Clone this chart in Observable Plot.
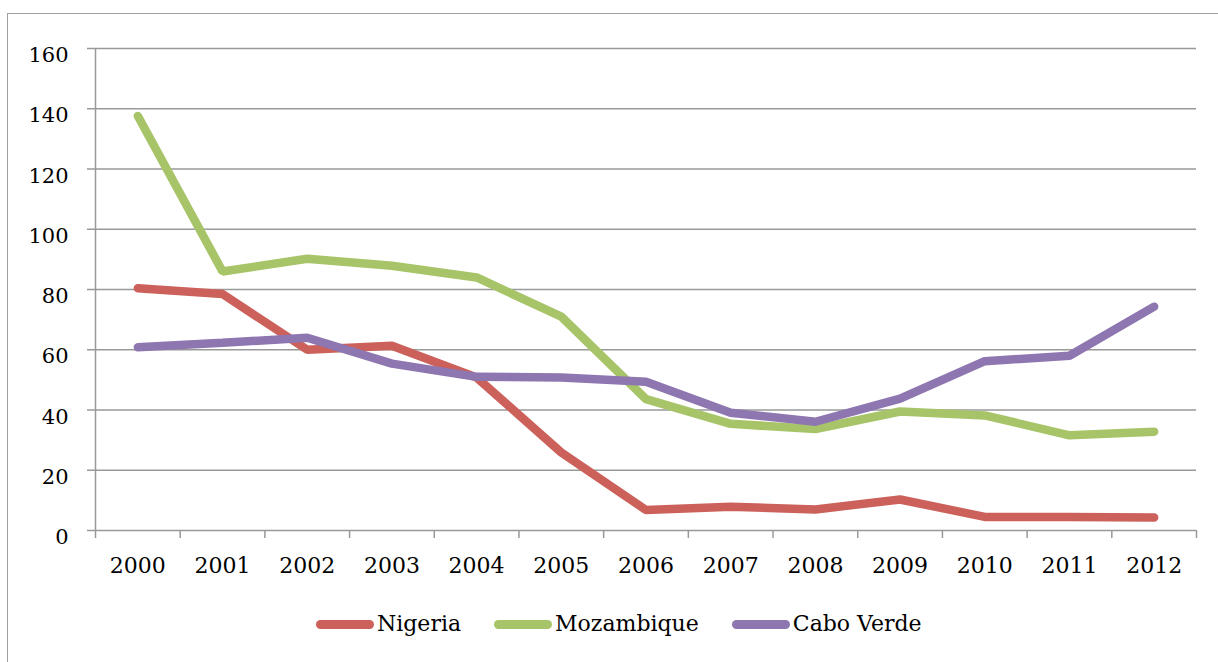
<!DOCTYPE html>
<html><head><meta charset="utf-8">
<script src="https://cdn.jsdelivr.net/npm/d3@7"></script>
<script src="https://cdn.jsdelivr.net/npm/@observablehq/plot@0.6"></script>
<style>
html,body{margin:0;padding:0;background:#fff;}
#wrap{position:relative;width:1218px;height:662px;overflow:hidden;font-family:"DejaVu Serif",serif;background:#fff;}
#border{position:absolute;left:7px;top:13px;width:1300px;height:700px;border:1.5px solid #a0a0a0;}
#chart{position:absolute;left:0;top:0;}
#legend{position:absolute;left:316px;top:608px;display:flex;align-items:center;gap:33px;}
.item{display:flex;align-items:center;}
.sw{width:58px;height:9px;border-radius:4.5px;}
.lab{display:inline-block;font-size:22px;line-height:32px;margin-left:3px;color:#000;white-space:nowrap;}
</style>
</head><body>
<div id="wrap"><div id="border"></div><div id="chart"></div><div id="legend"></div></div>
<script>
const years = [2000,2001,2002,2003,2004,2005,2006,2007,2008,2009,2010,2011,2012];
const nigeria    = [80.4, 78.5, 60.0, 61.3, 50.8, 25.9, 6.8, 7.9, 7.0, 10.3, 4.5, 4.5, 4.3];
const mozambique = [137.6, 86.0, 90.2, 87.9, 84.0, 71.0, 43.6, 35.4, 33.7, 39.5, 38.2, 31.6, 32.8];
const caboVerde  = [60.8, 62.3, 64.0, 55.4, 51.0, 50.8, 49.4, 39.1, 36.1, 43.8, 56.2, 58.0, 74.3];
const series = ["Nigeria", "Mozambique", "Cabo Verde"];
const colors = ["#CC605A", "#A8C468", "#8E76B0"];
const yTicks = [0, 20, 40, 60, 80, 100, 120, 140, 160];

const seriesValues = [nigeria, mozambique, caboVerde];
const data = series.flatMap((s, i) => years.map((yr, j) => ({year: yr, value: seriesValues[i][j], country: s})));
const boundaries = [...years.map(y => y - 0.5), years[years.length - 1] + 0.5];

const chart = Plot.plot({
  width: 1218, height: 580,
  marginLeft: 95, marginRight: 22, marginTop: 48, marginBottom: 50,
  style: {fontFamily: "DejaVu Serif", fontSize: "21px", color: "#000", background: "transparent", overflow: "visible"},
  x: {domain: [boundaries[0], boundaries[boundaries.length - 1]], ticks: boundaries, tickSize: 8, tickFormat: () => "", label: null},
  y: {domain: [0, 160], ticks: yTicks, tickSize: 8, tickPadding: 19, label: null},
  color: {domain: series, range: colors},
  marks: [
    Plot.ruleY(yTicks, {stroke: "#999", strokeWidth: 1.5}),
    Plot.ruleX([boundaries[0]], {stroke: "#999", strokeWidth: 1.5}),
    Plot.text(years, {x: d => d, y: () => 0, text: d => String(d), dy: 35, fill: "#000", fontSize: 22, fontFamily: "DejaVu Serif"}),
    Plot.line(data, {x: "year", y: "value", z: "country", stroke: "country", strokeWidth: 8.5, strokeLinecap: "round", strokeLinejoin: "miter"})
  ]
});
d3.select(chart).selectAll('g[aria-label*="axis"] line, g[aria-label*="axis"] path').attr("stroke", "#999").attr("stroke-width", 1.5);
d3.select(chart).selectAll('g[aria-label*="axis"] text').attr("fill", "#000").attr("dy", "7px");
document.getElementById("chart").appendChild(chart);

const legend = d3.select("#legend");
series.forEach((s, i) => {
  const item = legend.append("div").attr("class", "item");
  item.append("div").attr("class", "sw").style("background", colors[i]);
  item.append("span").attr("class", "lab").text(s);
});
</script>
</body></html>
